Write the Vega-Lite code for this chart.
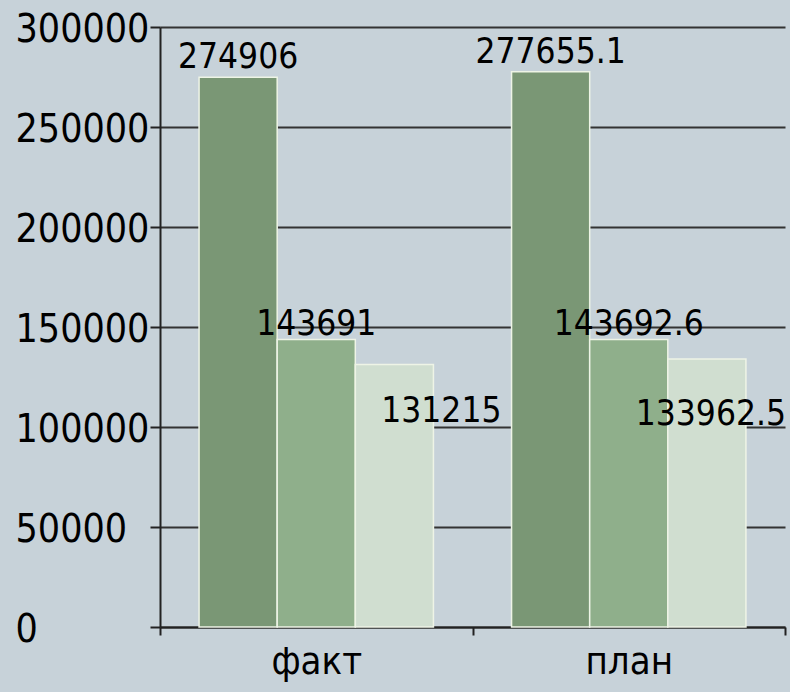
{
  "$schema": "https://vega.github.io/schema/vega-lite/v6.json",
  "width": 625,
  "height": 600,
  "autosize": {"type": "none"},
  "padding": {"left": 160, "top": 27, "right": 5, "bottom": 65},
  "background": "#c7d2d9",
  "config": {
    "view": {"stroke": null},
    "font": "DejaVu Sans Condensed",
    "axis": {"labelFont": "DejaVu Sans Condensed", "labelColor": "#000", "domainColor": "#222", "domainWidth": 2, "tickColor": "#222", "tickWidth": 2, "gridColor": "#333", "gridWidth": 2}
  },
  "data": {
    "values": [
      {"cat": "факт", "series": "s1", "value": 274906, "label": "274906"},
      {"cat": "факт", "series": "s2", "value": 143691, "label": "143691"},
      {"cat": "факт", "series": "s3", "value": 131215, "label": "131215"},
      {"cat": "план", "series": "s1", "value": 277655.1, "label": "277655.1"},
      {"cat": "план", "series": "s2", "value": 143692.6, "label": "143692.6"},
      {"cat": "план", "series": "s3", "value": 133962.5, "label": "133962.5"}
    ]
  },
  "encoding": {
    "x": {"field": "cat", "type": "nominal", "sort": ["факт", "план"],
      "scale": {"paddingInner": 0, "paddingOuter": 0},
      "axis": {"title": null, "labelAngle": 0, "labelFontSize": 38, "labelPadding": 8, "tickSize": 8, "tickBand": "extent", "grid": false, "labelBaseline": "top"}},
    "xOffset": {"field": "series", "type": "nominal", "scale": {"paddingInner": 0, "paddingOuter": 0.5}},
    "y": {"field": "value", "type": "quantitative",
      "scale": {"domain": [0, 300000], "nice": false},
      "axis": {"title": null, "values": [0, 50000, 100000, 150000, 200000, 250000, 300000], "labelFontSize": 39, "labelAlign": "left", "labelOffset": 2, "tickSize": 10, "labelPadding": 135, "grid": true, "format": "d"}}
  },
  "layer": [
    {
      "mark": {"type": "bar", "stroke": "#eef4e6", "strokeWidth": 1.5},
      "encoding": {
        "color": {"field": "series", "type": "nominal", "legend": null,
          "scale": {"domain": ["s1", "s2", "s3"], "range": ["#7a9775", "#8faf8b", "#d0ded0"]}}
      }
    },
    {
      "transform": [{"filter": "datum.series === 's1'"}],
      "mark": {"type": "text", "fontSize": 35, "baseline": "alphabetic", "dy": -9, "color": "#000"},
      "encoding": {"text": {"field": "label"}}
    },
    {
      "transform": [{"filter": "datum.series === 's2'"}],
      "mark": {"type": "text", "fontSize": 35, "baseline": "alphabetic", "dy": -5, "color": "#000"},
      "encoding": {"text": {"field": "label"}}
    },
    {
      "transform": [{"filter": "datum.series === 's3' && datum.cat === 'факт'"}],
      "mark": {"type": "text", "fontSize": 35, "baseline": "alphabetic", "dy": 57, "dx": 47, "color": "#000"},
      "encoding": {"text": {"field": "label"}}
    },
    {
      "transform": [{"filter": "datum.series === 's3' && datum.cat === 'план'"}],
      "mark": {"type": "text", "fontSize": 35, "baseline": "alphabetic", "dy": 66, "dx": 4, "color": "#000"},
      "encoding": {"text": {"field": "label"}}
    }
  ]
}
